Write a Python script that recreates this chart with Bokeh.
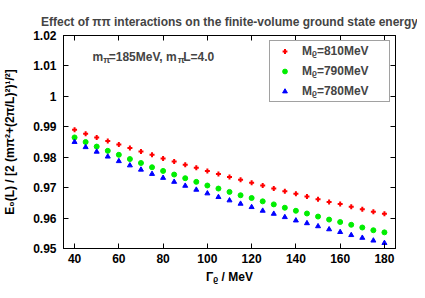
from bokeh.plotting import figure
from bokeh.models import (Range1d, FixedTicker, LinearAxis, CustomJSTickFormatter,
                          Label, Legend, LegendItem, Title)
from bokeh.embed import file_html
from bokeh.resources import INLINE

# ---- data ----
gamma_rho = list(range(40, 181, 5))  # Gamma_rho / MeV
e_810 = [0.9890, 0.9877, 0.9865, 0.9853, 0.9842, 0.9830, 0.9819, 0.9808, 0.9796, 0.9786,
         0.9775, 0.9765, 0.9755, 0.9745, 0.9735, 0.9726, 0.9716, 0.9707, 0.9697, 0.9688,
         0.9680, 0.9671, 0.9662, 0.9653, 0.9646, 0.9637, 0.9629, 0.9621, 0.9614]
e_790 = [0.9865, 0.9850, 0.9835, 0.9821, 0.9808, 0.9794, 0.9781, 0.9767, 0.9755, 0.9743,
         0.9731, 0.9719, 0.9707, 0.9697, 0.9686, 0.9675, 0.9666, 0.9655, 0.9645, 0.9634,
         0.9624, 0.9615, 0.9605, 0.9595, 0.9587, 0.9578, 0.9569, 0.9560, 0.9553]
e_780 = [0.9850, 0.9833, 0.9818, 0.9802, 0.9787, 0.9773, 0.9759, 0.9745, 0.9732, 0.9719,
         0.9706, 0.9693, 0.9681, 0.9669, 0.9658, 0.9647, 0.9636, 0.9624, 0.9614, 0.9603,
         0.9592, 0.9583, 0.9573, 0.9563, 0.9554, 0.9544, 0.9535, 0.9526, 0.9518]
series_labels = ["M\u1d68=810MeV", "M\u1d68=790MeV", "M\u1d68=780MeV"]
x_ticks = [40, 60, 80, 100, 120, 140, 160, 180]
y_ticks = [0.95, 0.96, 0.97, 0.98, 0.99, 1.00, 1.01, 1.02]

FONT = "Liberation Sans"

p = figure(width=417, height=298, output_backend="svg", toolbar_location=None,
           x_range=Range1d(35, 185), y_range=Range1d(0.95, 1.02),
           min_border_left=57, min_border_right=22, min_border_top=35, min_border_bottom=50)
p.title = Title(text="Effect of \u03c0\u03c0 interactions on the finite-volume ground state energy",
                align="center", text_font=FONT, text_font_size="12px", text_font_style="bold",
                standoff=13, offset=0)
p.xgrid.visible = False
p.ygrid.visible = False
p.outline_line_color = "black"
p.background_fill_color = "white"
p.border_fill_color = "white"

for ax in p.xaxis + p.yaxis:
    ax.major_tick_in = 5
    ax.major_tick_out = 0
    ax.minor_tick_line_color = None
    ax.axis_line_color = "black"
    ax.major_tick_line_color = "black"
    ax.major_label_text_font = FONT
    ax.major_label_text_font_style = "bold"
    ax.major_label_text_font_size = "12px"
    ax.major_label_text_color = "black"
    ax.axis_label_text_font = FONT
    ax.axis_label_text_font_style = "bold"
    ax.axis_label_text_font_size = "12px"
    ax.axis_label_text_color = "black"

p.xaxis.ticker = FixedTicker(ticks=x_ticks)
p.yaxis.ticker = FixedTicker(ticks=y_ticks)
p.yaxis.formatter = CustomJSTickFormatter(code="return Number(tick.toFixed(2)).toString();")
p.xaxis.major_label_standoff = 5
p.yaxis.major_label_standoff = 7
p.xaxis.axis_label = "\u0393\u1d68 / MeV"
p.yaxis.axis_label = "E\u2080(L) / [2 (m\u03c0\u00b2+(2\u03c0/L)\u00b2)\u00b9/\u00b2]"
p.xaxis.axis_label_standoff = 4
p.yaxis.axis_label_standoff = 13

blank = CustomJSTickFormatter(code="return '';")
top_axis = LinearAxis(ticker=FixedTicker(ticks=x_ticks), formatter=blank, major_tick_in=5,
                      major_tick_out=0, minor_tick_line_color=None, major_label_standoff=0,
                      major_label_text_font_size="1px")
right_axis = LinearAxis(ticker=FixedTicker(ticks=y_ticks), formatter=blank, major_tick_in=5,
                        major_tick_out=0, minor_tick_line_color=None, major_label_standoff=0,
                        major_label_text_font_size="1px")
p.add_layout(top_axis, "above")
p.add_layout(right_axis, "right")

r1 = p.scatter(gamma_rho, e_810, marker="cross", size=5, line_width=2, color="#ff0000")
r2 = p.scatter(gamma_rho, e_790, marker="circle", size=5, color="#00ee00")
r3 = p.scatter(gamma_rho, e_780, marker="triangle", size=5, color="#0000ff")

legend = Legend(items=[LegendItem(label=series_labels[0], renderers=[r1]),
                       LegendItem(label=series_labels[1], renderers=[r2]),
                       LegendItem(label=series_labels[2], renderers=[r3])],
                location="top_right", margin=5, padding=3, spacing=6,
                glyph_width=23, glyph_height=12, label_height=12, label_width=84,
                label_standoff=6, label_text_font=FONT, label_text_font_style="bold",
                label_text_font_size="12px", border_line_color="#444444",
                border_line_width=1, background_fill_alpha=1)
p.add_layout(legend)

# annotation with subscripts
ann_x, ann_y = 48.1, 1.0128
def piece(txt, dx, dy=0, size="12px"):
    p.add_layout(Label(x=ann_x, y=ann_y, x_offset=dx, y_offset=dy, text=txt,
                       text_font=FONT, text_font_style="bold", text_font_size=size,
                       text_baseline="alphabetic"))
piece("m", 0)
piece("\u03c0", 10.7, -3, "9px")
piece("=185MeV, m", 16.2)
piece("\u03c0", 85.2, -3, "9px")
piece("L=4.0", 90.7)

open("out.html", "w").write(file_html(p, INLINE))
